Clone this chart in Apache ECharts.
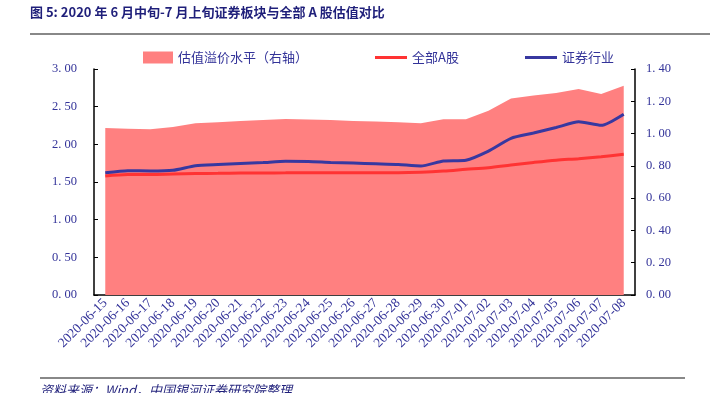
<!DOCTYPE html>
<html><head><meta charset="utf-8">
<script src="https://cdn.jsdelivr.net/npm/echarts@6/dist/echarts.min.js"></script>
<style>html,body{margin:0;padding:0;background:#fff}#c{width:710px;height:393px}</style>
</head><body><div id="c"></div>
<script>
var categories = ['2020-06-15','2020-06-16','2020-06-17','2020-06-18','2020-06-19','2020-06-20','2020-06-21','2020-06-22','2020-06-23','2020-06-24','2020-06-25','2020-06-26','2020-06-27','2020-06-28','2020-06-29','2020-06-30','2020-07-01','2020-07-02','2020-07-03','2020-07-04','2020-07-05','2020-07-06','2020-07-07','2020-07-08'];
var premium = [1.035,1.030,1.026,1.040,1.064,1.070,1.078,1.084,1.090,1.087,1.084,1.078,1.075,1.070,1.064,1.088,1.088,1.142,1.218,1.236,1.252,1.276,1.245,1.297];
var allA = [1.58,1.60,1.60,1.606,1.612,1.615,1.618,1.62,1.622,1.624,1.624,1.624,1.624,1.624,1.63,1.645,1.668,1.69,1.726,1.76,1.79,1.81,1.836,1.867];
var broker = [1.623,1.65,1.646,1.655,1.716,1.732,1.745,1.758,1.774,1.772,1.76,1.752,1.742,1.732,1.712,1.779,1.79,1.911,2.08,2.15,2.223,2.30,2.252,2.40];
var leftTicks = {min:0,max:3,interval:0.5};
var rightTicks = {min:0,max:1.4,interval:0.2};
var blue = '#333399';
function fmt(v){return v.toFixed(2).replace('.', '. ');}
var legendText = {color:blue,fontSize:13,fontFamily:'"Noto Sans CJK SC"'};
var chart = echarts.init(document.getElementById('c'));
chart.setOption({
  animation:false,
  graphic:[
    {type:'text',left:30,top:6,style:{text:'图 5: 2020 年 6 月中旬-7 月上旬证券板块与全部 A 股估值对比',font:'bold 13px "Noto Sans CJK SC"',fill:'#1f1f7a'}},
    {type:'line',shape:{x1:30,y1:34,x2:710,y2:34},style:{stroke:'#888',lineWidth:2}},
    {type:'line',shape:{x1:40,y1:378,x2:685,y2:378},style:{stroke:'#888',lineWidth:2}},
    {type:'text',left:40,top:384,style:{text:'资料来源：Wind，中国银河证券研究院整理',font:'italic 13px "Noto Sans CJK SC"',fill:'#1f1f7a'}}
  ],
  legend:[
    {top:46,left:138,itemWidth:30,itemHeight:12,textStyle:legendText,
     data:[{name:'估值溢价水平（右轴）',icon:'rect'}]},
    {top:46,left:370,itemWidth:32,itemHeight:3,itemGap:8,textStyle:legendText,
     data:[{name:'全部A股',icon:'rect'}]},
    {top:46,left:520,itemWidth:32,itemHeight:3,textStyle:legendText,
     data:[{name:'证券行业',icon:'rect'}]}
  ],
  grid:{left:94,right:75,top:69,bottom:98},
  xAxis:{type:'category',data:categories,boundaryGap:true,
    axisLine:{lineStyle:{color:'#000',width:1.5}},
    axisTick:{inside:true,length:4,lineStyle:{color:'#000'}},
    axisLabel:{rotate:45,interval:0,color:blue,fontSize:13.5,fontFamily:'"Liberation Serif"',margin:6}},
  yAxis:[
    {type:'value',min:leftTicks.min,max:leftTicks.max,interval:leftTicks.interval,position:'left',
     axisLine:{show:true,lineStyle:{color:'#000',width:1.5}},
     axisTick:{show:true,inside:true,length:4,lineStyle:{color:'#000'}},
     splitLine:{show:false},
     axisLabel:{formatter:fmt,color:blue,fontSize:12.5,fontFamily:'"Liberation Serif"',margin:17}},
    {type:'value',min:rightTicks.min,max:rightTicks.max,interval:rightTicks.interval,position:'right',
     axisLine:{show:true,lineStyle:{color:'#000',width:1.5}},
     axisTick:{show:true,inside:true,length:4,lineStyle:{color:'#000'}},
     splitLine:{show:false},
     axisLabel:{formatter:fmt,color:blue,fontSize:12.5,fontFamily:'"Liberation Serif"',margin:11}}
  ],
  series:[
    {name:'估值溢价水平（右轴）',type:'line',yAxisIndex:1,data:premium,symbol:'none',
     lineStyle:{width:0,color:'#FF8080'},itemStyle:{color:'#FF8080'},areaStyle:{color:'#FF8080',opacity:1}},
    {name:'全部A股',type:'line',yAxisIndex:0,data:allA,symbol:'none',smooth:0.3,
     lineStyle:{width:3,color:'#FF3333'},itemStyle:{color:'#FF3333'}},
    {name:'证券行业',type:'line',yAxisIndex:0,data:broker,symbol:'none',smooth:0.2,
     lineStyle:{width:3,color:'#3838A0'},itemStyle:{color:'#3838A0'}}
  ]
});
</script></body></html>
